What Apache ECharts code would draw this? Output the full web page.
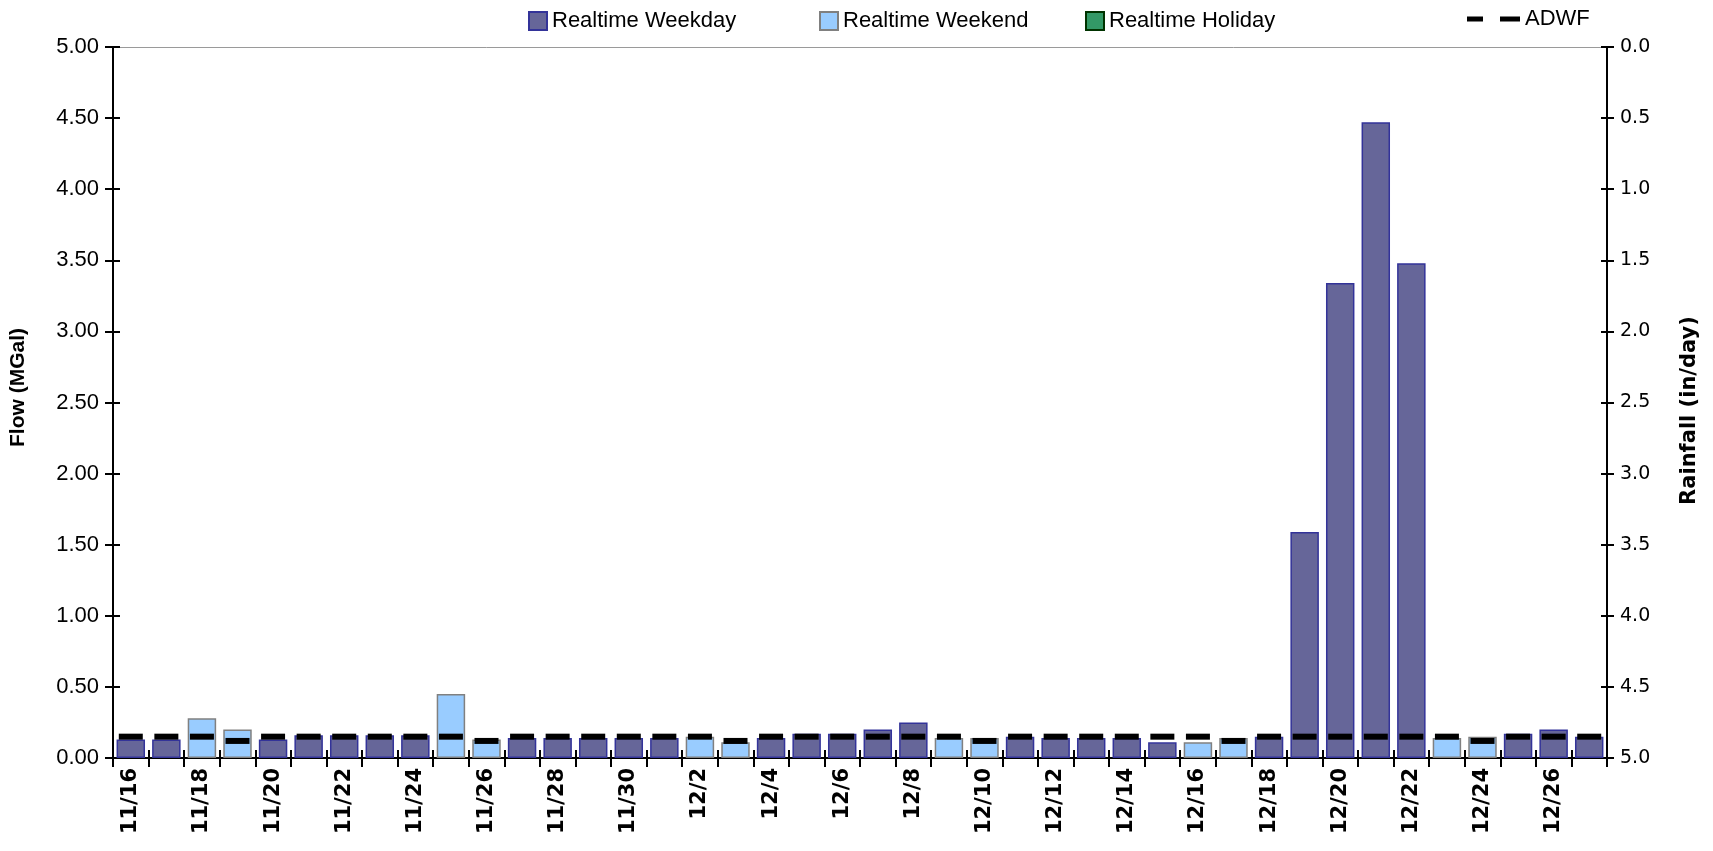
<!DOCTYPE html>
<html>
<head>
<meta charset="utf-8">
<script src="https://cdn.jsdelivr.net/npm/echarts@6/dist/echarts.min.js"></script>
<style>
html,body{margin:0;padding:0;background:#fff;}
#chart{width:1713px;height:851px;}
</style>
</head>
<body>
<div id="chart"></div>
<script>
const categories = ['11/16','11/17','11/18','11/19','11/20','11/21','11/22','11/23','11/24','11/25','11/26','11/27','11/28','11/29','11/30',
  '12/1','12/2','12/3','12/4','12/5','12/6','12/7','12/8','12/9','12/10','12/11','12/12','12/13','12/14','12/15','12/16','12/17','12/18','12/19','12/20','12/21','12/22','12/23','12/24','12/25','12/26','12/27'];
const weekdayFlow = [0.13,0.13,null,null,0.13,0.16,0.16,0.16,0.16,null,null,0.14,0.14,0.14,0.14,
  0.14,null,null,0.14,0.17,0.17,0.20,0.25,null,null,0.15,0.14,0.14,0.14,0.11,null,null,0.15,1.59,3.34,4.47,3.48,null,null,0.17,0.20,0.15];
const weekendFlow = [null,null,0.28,0.20,null,null,null,null,null,0.45,0.13,null,null,null,null,
  null,0.15,0.11,null,null,null,null,null,0.14,0.14,null,null,null,null,null,0.11,0.14,null,null,null,null,null,0.14,0.15,null,null,null];
const holidayFlow = [];
const adwf = [0.15,0.15,0.15,0.12,0.15,0.15,0.15,0.15,0.15,0.15,0.12,0.15,0.15,0.15,0.15,
  0.15,0.15,0.12,0.15,0.15,0.15,0.15,0.15,0.15,0.12,0.15,0.15,0.15,0.15,0.15,0.15,0.12,0.15,0.15,0.15,0.15,0.15,0.15,0.12,0.15,0.15,0.15];
const flowTicks = {min:0, max:5, interval:0.5};
const rainTicks = {min:0, max:5, interval:0.5};

const chart = echarts.init(document.getElementById('chart'));
const toSeries = arr => categories.map((c,i) => (arr[i] == null ? '-' : arr[i]));
const legendText = {fontFamily:'Liberation Sans', fontSize:22, color:'#000'};
const tickStyle = {color:'#000', width:2};
const option = {
  animation:false,
  textStyle:{fontFamily:'Liberation Sans'},
  grid:{left:113, right:106, top:47, bottom:93},
  legend:[
    {data:['Realtime Weekday'], left:528, top:10, padding:0, itemWidth:18, itemHeight:18, icon:'rect', textStyle:legendText, selectedMode:false},
    {data:['Realtime Weekend'], left:819, top:10, padding:0, itemWidth:18, itemHeight:18, icon:'rect', textStyle:legendText, selectedMode:false},
    {data:['Realtime Holiday'], left:1085, top:10, padding:0, itemWidth:18, itemHeight:18, icon:'rect', textStyle:legendText, selectedMode:false},
    {data:[{name:'ADWF', icon:'path://M0,0H16V5H0Z M33,0H53V5H33Z'}], left:1467, top:8, padding:0, itemWidth:53, itemHeight:5, textStyle:legendText, selectedMode:false}
  ],
  xAxis:[
    {type:'category', data:categories, position:'bottom',
     axisLine:{lineStyle:{color:'#000', width:2}},
     axisTick:{show:true, interval:0, length:9, lineStyle:tickStyle},
     axisLabel:{interval:1, rotate:90, fontFamily:'DejaVu Sans', fontWeight:'bold', fontSize:21, color:'#000', margin:10},
     splitLine:{show:false}},
    {type:'category', data:categories, position:'top',
     axisLine:{show:true, lineStyle:{color:'#9a9a9a', width:1}},
     axisTick:{show:false}, axisLabel:{show:false}, splitLine:{show:false}},
    {type:'category', data:categories, position:'bottom',
     axisLine:{show:false},
     axisTick:{show:true, inside:true, interval:0, length:8, lineStyle:tickStyle},
     axisLabel:{show:false}, splitLine:{show:false}}
  ],
  yAxis:[
    {type:'value', position:'left', min:flowTicks.min, max:flowTicks.max, interval:flowTicks.interval,
     name:'Flow (MGal)', nameLocation:'middle', nameGap:84, nameRotate:90,
     nameTextStyle:{fontFamily:'Liberation Sans', fontWeight:'bold', fontSize:21, color:'#000', padding:[0,0,0,30]},
     axisLine:{show:true, lineStyle:{color:'#000', width:2}},
     axisTick:{show:true, length:8, lineStyle:tickStyle},
     axisLabel:{formatter:v => v.toFixed(2), fontFamily:'Liberation Sans', fontSize:22, color:'#000', margin:14},
     splitLine:{show:false}},
    {type:'value', position:'right', inverse:true, min:rainTicks.min, max:rainTicks.max, interval:rainTicks.interval,
     name:'Rainfall (in/day)', nameLocation:'middle', nameGap:72, nameRotate:90,
     nameTextStyle:{fontFamily:'DejaVu Sans', fontWeight:'bold', fontSize:21, color:'#000', padding:[0,16,0,0]},
     axisLine:{show:true, lineStyle:{color:'#000', width:2}},
     axisTick:{show:true, length:7, lineStyle:tickStyle},
     axisLabel:{formatter:v => v.toFixed(1), fontFamily:'DejaVu Sans', fontSize:19, color:'#000', margin:13},
     splitLine:{show:false}},
    {type:'value', position:'left', min:flowTicks.min, max:flowTicks.max, interval:flowTicks.interval,
     axisLine:{show:false}, axisTick:{show:true, inside:true, length:7, lineStyle:tickStyle},
     axisLabel:{show:false}, splitLine:{show:false}},
    {type:'value', position:'right', inverse:true, min:rainTicks.min, max:rainTicks.max, interval:rainTicks.interval,
     axisLine:{show:false}, axisTick:{show:true, inside:true, length:6, lineStyle:tickStyle},
     axisLabel:{show:false}, splitLine:{show:false}}
  ],
  series:[
    {name:'Realtime Weekday', type:'bar', stack:'flow', barCategoryGap:'20%', data:toSeries(weekdayFlow),
     itemStyle:{color:'#666699', borderColor:'#333399', borderWidth:1.5}},
    {name:'Realtime Weekend', type:'bar', stack:'flow', data:toSeries(weekendFlow),
     itemStyle:{color:'#99CCFF', borderColor:'#808080', borderWidth:1.5}},
    {name:'Realtime Holiday', type:'bar', stack:'flow', data:toSeries(holidayFlow),
     itemStyle:{color:'#339966', borderColor:'#003300', borderWidth:1.5}},
    {name:'ADWF', type:'scatter', data:adwf, symbol:'rect', symbolSize:[24,6], z:5,
     itemStyle:{color:'#000', opacity:1}}
  ]
};
chart.setOption(option);
</script>
</body>
</html>
